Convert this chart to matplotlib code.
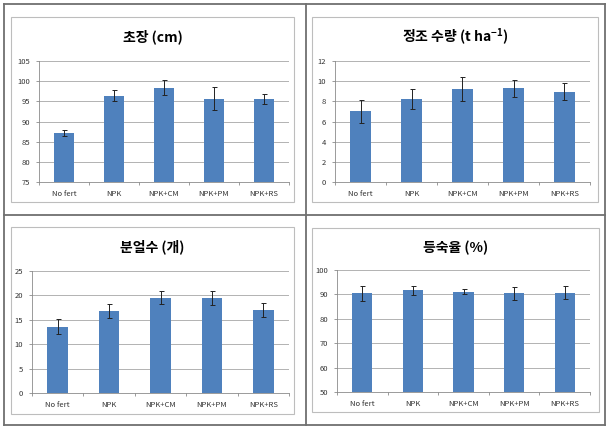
import matplotlib
matplotlib.use('Agg')
import matplotlib.pyplot as plt
from matplotlib.patches import Rectangle
from matplotlib.lines import Line2D

plt.rcParams['font.family'] = ['Noto Sans CJK KR', 'DejaVu Sans']
plt.rcParams['mathtext.default'] = 'regular'

# data
categories = ['No fert', 'NPK', 'NPK+CM', 'NPK+PM', 'NPK+RS']

height_cm = [87.1, 96.4, 98.4, 95.7, 95.5]
height_err = [0.75, 1.3, 1.8, 2.8, 1.2]

yield_t = [7.0, 8.2, 9.2, 9.3, 8.95]
yield_err = [1.15, 1.0, 1.2, 0.85, 0.85]

tillers = [13.6, 16.8, 19.5, 19.5, 17.0]
tillers_err = [1.5, 1.5, 1.3, 1.5, 1.35]

ripening = [90.4, 91.6, 91.1, 90.4, 90.7]
ripening_err = [3.1, 1.8, 1.0, 2.7, 2.6]

titles = ['초장 (cm)', '정조 수량 (t ha$^{-1}$)', '분얼수 (개)', '등숙율 (%)']

W, H = 615, 433
fig = plt.figure(figsize=(W / 100, H / 100), dpi=100)

def frac(l, t, r, b):
    return [l / W, 1 - b / H, (r - l) / W, (b - t) / H]

# outer table lines
for x in [4, 305.5, 605]:
    fig.add_artist(Line2D([x / W, x / W], [1 - 4 / H, 1 - 425 / H], color='#707070', lw=1.3, transform=fig.transFigure))
for y in [4, 215, 425]:
    fig.add_artist(Line2D([4 / W, 605 / W], [1 - y / H, 1 - y / H], color='#707070', lw=1.3, transform=fig.transFigure))

panels = [
    # values, errors, title, ylim, step, chart box, plot area
    (height_cm, height_err, titles[0], (75, 105), 5, (11, 17, 294, 202), (39, 61, 289, 182)),
    (yield_t, yield_err, titles[1], (0, 12), 2, (312, 17, 598, 202), (335, 61, 590, 182)),
    (tillers, tillers_err, titles[2], (0, 25), 5, (11, 227, 294, 414), (32, 271, 289, 393)),
    (ripening, ripening_err, titles[3], (50, 100), 10, (312, 228, 599, 412), (337, 270, 590, 392)),
]

for vals, errs, title, ylim, step, box, area in panels:
    bl, bt, br, bb = box
    fig.add_artist(Rectangle((bl / W, 1 - bb / H), (br - bl) / W, (bb - bt) / H,
                             transform=fig.transFigure, fill=False, ec='#bdbdbd', lw=0.8))
    fig.text((bl + br) / 2 / W, 1 - (bt + 20) / H, title, ha='center', va='center',
             fontsize=10, fontweight='bold')

    ax = fig.add_axes(frac(*area))
    x = range(len(categories))
    ax.bar(x, vals, width=0.4, color='#4f81bd', zorder=2)
    ax.errorbar(x, vals, yerr=errs, fmt='none', ecolor='#222222', elinewidth=0.7,
                capsize=1.8, capthick=0.7, zorder=3)
    ax.set_xlim(-0.5, len(categories) - 0.5)
    ax.set_ylim(*ylim)
    ax.set_yticks(range(ylim[0], ylim[1] + 1, step))
    ax.set_xticks(list(x))
    ax.set_xticklabels(categories)
    ax.set_xticks([i - 0.5 for i in range(len(categories) + 1)], minor=True)
    ax.tick_params(axis='x', which='major', length=0, labelsize=5.5, pad=5.5, colors='#333333')
    ax.tick_params(axis='x', which='minor', length=2.5, color='#8a8a8a', width=0.6)
    ax.tick_params(axis='y', length=2.5, labelsize=5.5, color='#8a8a8a', width=0.6,
                   labelcolor='#333333', pad=4)
    ax.grid(axis='y', color='#a6a6a6', lw=0.6, zorder=0)
    ax.set_axisbelow(True)
    for s in ['top', 'right']:
        ax.spines[s].set_visible(False)
    for s in ['left', 'bottom']:
        ax.spines[s].set_color('#8a8a8a')
        ax.spines[s].set_linewidth(0.6)

fig.savefig('out.png', dpi=100)
